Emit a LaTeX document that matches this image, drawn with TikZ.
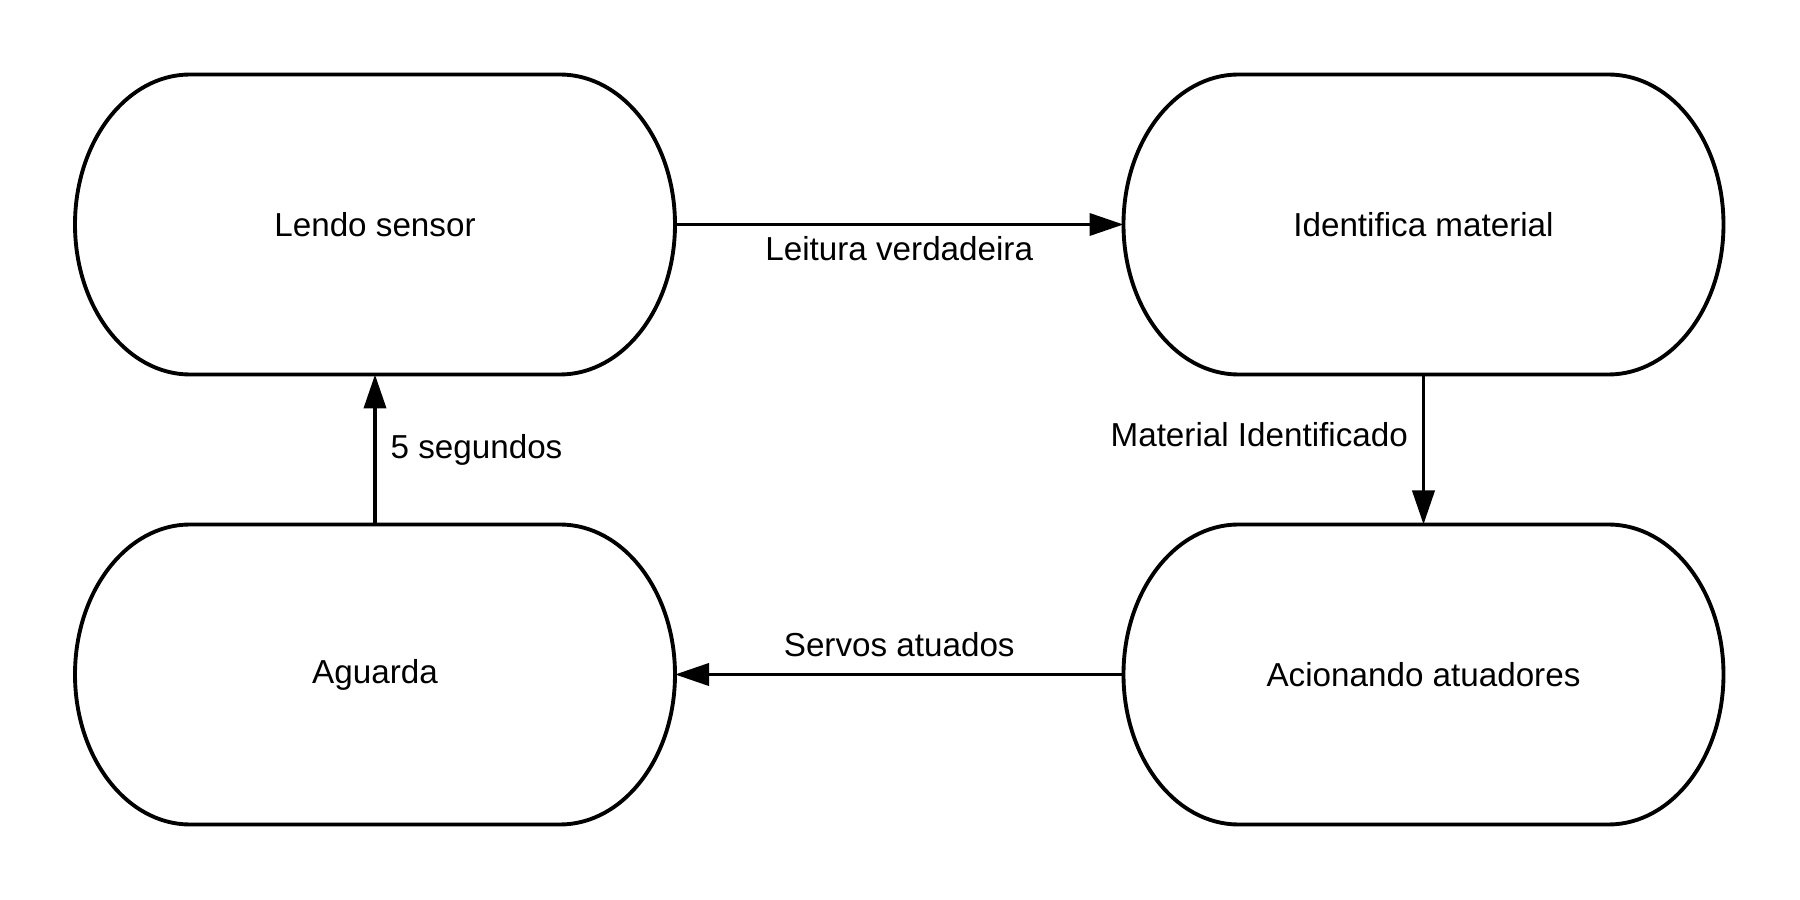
\documentclass[tikz,border=0pt]{standalone}
\usepackage{fontspec}
\setmainfont{Liberation Sans}
\usetikzlibrary{arrows.meta}

\newcommand{\stateLineWidth}{1.1pt}
\newcommand{\stateW}{6}
\newcommand{\stateH}{3}
\newcommand{\cornerRX}{1.15}
\newcommand{\cornerRY}{1.5}
\newcommand{\leftX}{3.75}
\newcommand{\rightX}{14.235}
\newcommand{\topY}{6.755}
\newcommand{\bottomY}{2.255}

% outline of a state: straight top and bottom, elliptic sides
\newcommand{\drawState}[1]{%
  \draw[line width=\stateLineWidth]
    ([xshift=\cornerRX cm]#1.north west) -- ([xshift=-\cornerRX cm]#1.north east)
    arc[start angle=90, end angle=-90, x radius=\cornerRX cm, y radius=\cornerRY cm]
    -- ([xshift=\cornerRX cm]#1.south west)
    arc[start angle=270, end angle=90, x radius=\cornerRX cm, y radius=\cornerRY cm]
    -- cycle;}

\begin{document}
\begin{tikzpicture}[
    state/.style={minimum width=\stateW cm, minimum height=\stateH cm, inner sep=0pt, outer sep=0pt, font=\fontsize{9.45}{11}\selectfont},
    trans/.style={line width=\stateLineWidth, -{Triangle[length=0.34cm, width=0.22cm]}},
    lbl/.style={font=\fontsize{9.45}{11}\selectfont}
  ]
  \useasboundingbox (0,0) rectangle (18,9);

  % States
  \node[state] (lendo) at (\leftX,\topY) {Lendo sensor};
  \node[state] (identifica) at (\rightX,\topY) {Identifica material};
  \node[state] (aciona) at (\rightX,\bottomY) {Acionando atuadores};
  \node[state] (aguarda) at (\leftX,\bottomY) {Aguarda};

  \drawState{lendo}
  \drawState{identifica}
  \drawState{aciona}
  \drawState{aguarda}

  % Transitions
  \draw[trans] (lendo.east) -- node[lbl, below=-0.02cm] {Leitura verdadeira} (identifica.west);
  \draw[trans] (identifica.south) -- node[lbl, left=0.02cm, pos=0.4] {Material Identificado} (aciona.north);
  \draw[trans] (aciona.west) -- node[lbl, above=0.04cm] {Servos atuados} (aguarda.east);
  \draw[trans] (aguarda.north) -- node[lbl, right=0.02cm, pos=0.5] {5 segundos} (lendo.south);
\end{tikzpicture}
\end{document}
